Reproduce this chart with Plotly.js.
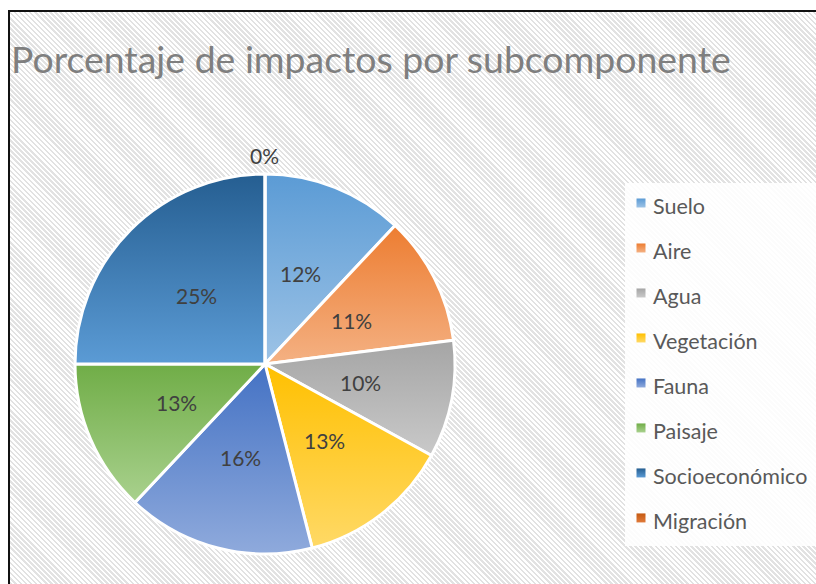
<!DOCTYPE html>
<html>
<head>
<meta charset="utf-8">
<script src="https://cdn.plot.ly/plotly-3.0.1.min.js"></script>
<style>
  html, body { margin: 0; padding: 0; background: #fff; }
  #wrap { position: relative; width: 816px; height: 584px; overflow: hidden; background: #fff; }
  #frame { position: absolute; left: 8px; top: 10px; width: 820px; height: 590px;
           border-left: 2px solid #111; border-top: 2px solid #111;
           background: repeating-linear-gradient(45deg, #ffffff 0px, #ffffff 1.8px, #e2e2e2 1.8px, #e2e2e2 3.6px); }
  #chart { position: absolute; left: 0; top: 0; width: 816px; height: 584px; }
</style>
</head>
<body>
<div id="wrap">
  <div id="frame"></div>
  <div id="chart"></div>
</div>
<script>
const categories = ["Suelo", "Aire", "Agua", "Vegetación", "Fauna", "Paisaje", "Socioeconómico", "Migración"];
const values = [12, 11, 10, 13, 16, 13, 25, 0];
const flatColors = ["#7DAFDE", "#F19B62", "#B8B8B8", "#FFCB3A", "#6C8ED2", "#8DBF6C", "#3D75AD", "#C55A11"];
const gradTop = ["#5B9BD5", "#ED7D31", "#A5A5A5", "#FFC000", "#4472C4", "#70AD47", "#255E91", "#C55A11"];
const gradBottom = ["#9DC3E6", "#F4B183", "#C9C9C9", "#FFD966", "#8FAADC", "#A9D18E", "#5B9BD5", "#E07A3A"];
const titleText = "Porcentaje de impactos por subcomponente";

const W = 816, H = 584;
const cx = 265, cy = 364, R = 190;
const dom = { x: [(cx - R) / W, (cx + R) / W], y: [(H - cy - R) / H, (H - cy + R) / H] };

const legendLabels = categories.map(c => '<span style="font-size:21.5px">' + c + '</span>');

const trace = {
  type: 'pie',
  labels: legendLabels,
  values: values,
  sort: false,
  direction: 'clockwise',
  rotation: 0,
  domain: dom,
  marker: { colors: flatColors, line: { color: '#ffffff', width: 3 } },
  textinfo: 'none',
  hoverinfo: 'none'
};

// percentage labels placed at half radius along each slice's mid-angle (computed from the values)
const total = values.reduce((a, b) => a + b, 0);
const labelFont = { family: 'Lato, sans-serif', size: 21, color: '#404040' };
const annotations = [];
let cum = 0;
values.forEach((v, i) => {
  let px, py;
  if (v > 0) {
    const mid = (cum + v / 2) / total * 2 * Math.PI;
    px = cx + 0.51 * R * Math.sin(mid);
    py = cy - 0.51 * R * Math.cos(mid);
  } else {
    const mid = cum / total * 2 * Math.PI;
    px = cx + (R + 18) * Math.sin(mid);
    py = cy - (R + 18) * Math.cos(mid);
  }
  annotations.push({
    xref: 'paper', yref: 'paper', x: px / W, y: 1 - py / H,
    xanchor: 'center', yanchor: 'middle', showarrow: false,
    text: v + '%', font: labelFont
  });
  cum += v;
});

const layout = {
  width: W, height: H,
  margin: { l: 0, r: 0, t: 0, b: 0 },
  paper_bgcolor: 'rgba(0,0,0,0)',
  plot_bgcolor: 'rgba(0,0,0,0)',
  showlegend: true,
  title: {
    text: titleText,
    x: 11 / W, xanchor: 'left', xref: 'container',
    y: 1 - 60 / H, yanchor: 'middle', yref: 'container',
    font: { family: 'Lato, sans-serif', size: 37.4, color: '#7f7f7f', weight: 400 }
  },
  shapes: [{
    type: 'rect', xref: 'paper', yref: 'paper', layer: 'below',
    x0: 625 / W, x1: 1, y0: 1 - 546 / H, y1: 1 - 183 / H,
    fillcolor: 'rgba(255,255,255,0.88)', line: { width: 0 }
  }],
  legend: {
    x: 613 / W, xanchor: 'left',
    y: 1 - 174 / H, yanchor: 'top',
    bgcolor: 'rgba(0,0,0,0)',
    font: { family: 'Lato, sans-serif', size: 32.3, color: '#595959' },
    itemwidth: 30,
    traceorder: 'normal'
  },
  annotations: annotations
};

Plotly.newPlot('chart', [trace], layout, { staticPlot: true, displayModeBar: false }).then(gd => {
  const svg = gd.querySelector('svg.main-svg');
  const NS = 'http://www.w3.org/2000/svg';
  let defs = svg.querySelector('defs');
  if (!defs) { defs = document.createElementNS(NS, 'defs'); svg.insertBefore(defs, svg.firstChild); }
  categories.forEach((c, i) => {
    const lg = document.createElementNS(NS, 'linearGradient');
    lg.setAttribute('id', 'pg' + i);
    lg.setAttribute('x1', '0'); lg.setAttribute('y1', '0');
    lg.setAttribute('x2', '0'); lg.setAttribute('y2', '1');
    const s1 = document.createElementNS(NS, 'stop');
    s1.setAttribute('offset', '0'); s1.setAttribute('stop-color', gradTop[i]);
    const s2 = document.createElementNS(NS, 'stop');
    s2.setAttribute('offset', '1'); s2.setAttribute('stop-color', gradBottom[i]);
    lg.appendChild(s1); lg.appendChild(s2);
    defs.appendChild(lg);
  });
  gd.querySelectorAll('g.slice').forEach(g => {
    const d = g.__data__;
    const p = g.querySelector('path.surface');
    if (d && p) p.style.fill = 'url(#pg' + d.i + ')';
  });
  gd.querySelectorAll('path.legendpie').forEach(p => {
    const d = p.__data__;
    const pt = Array.isArray(d) ? d[0] : d;
    if (pt && pt.i !== undefined) {
      p.style.fill = 'url(#pg' + pt.i + ')';
      p.setAttribute('d', 'M12.5,6H3.5V-3H12.5Z');
      p.style.strokeWidth = '0';
    }
  });
});
</script>
</body>
</html>
